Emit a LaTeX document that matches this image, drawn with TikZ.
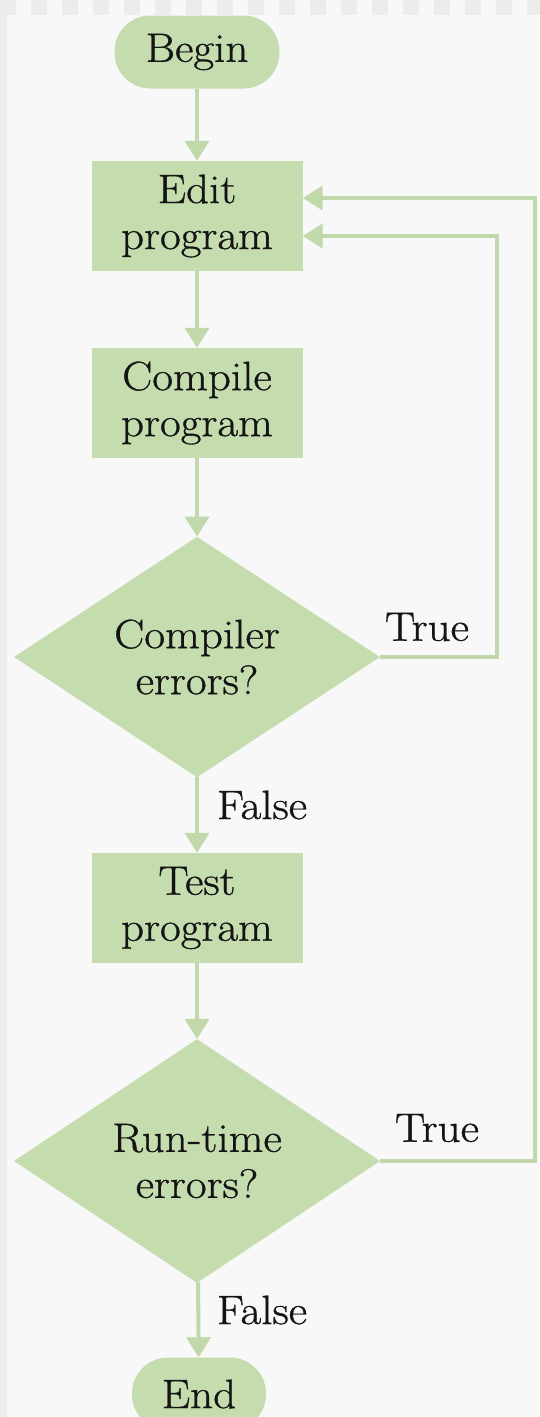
\documentclass[tikz,border=0pt]{standalone}
\usepackage{fontspec}
\usetikzlibrary{arrows.meta,shapes.geometric}
% a slightly wider and heavier cut of Latin Modern for the chart labels
\newfontfamily\flowfont{Latin Modern Roman}[FakeStretch=1.1,FakeBold=0.8]
\definecolor{flowgreen}{RGB}{197,220,174}
\definecolor{linegreen}{RGB}{193,217,170}
\definecolor{paper}{RGB}{248,248,248}
\definecolor{stripgray}{RGB}{236,236,236}
\definecolor{inkblack}{RGB}{20,20,20}
\tikzset{
  base/.style={fill=flowgreen, draw=none, text=inkblack, font=\flowfont\fontsize{41}{46}\selectfont, align=center, inner sep=0pt},
  terminal/.style={base, rectangle, rounded corners=36pt, minimum height=73pt},
  process/.style={base, rectangle, minimum width=211pt, minimum height=110pt},
  decision/.style={base, diamond, minimum width=366pt, minimum height=239pt},
  flow/.style={draw=linegreen, line width=4pt, -{Triangle[width=24pt,length=20pt]}},
  branch/.style={text=inkblack, font=\flowfont\fontsize{41}{46}\selectfont, inner sep=0pt}
}
\begin{document}
\begin{tikzpicture}[x=1pt,y=-1pt]
  % page background with the light strips on top and left
  \fill[paper] (0,0) rectangle (539,1417);
  \useasboundingbox (0,0) rectangle (539,1417);
  \fill[stripgray] (0,15) rectangle (7,1417);
  \foreach \i in {0,...,17} {
    \fill[stripgray] (\i*31,0) rectangle (\i*31+16,15);
  }

  % flowchart nodes
  \node[terminal, minimum width=165pt] (begin) at (197,52) {Begin};
  \node[process] (edit) at (197,216) {Edit\\program};
  \node[process] (compile) at (197,403) {Compile\\program};
  \node[decision] (cerr) at (197,657) {Compiler\\errors?};
  \node[process] (test) at (197,908) {Test\\program};
  \node[decision] (rerr) at (197,1161) {Run-time\\errors?};
  \node[terminal, minimum width=134pt] (end) at (199,1394) {End};

  % branch labels
  \node[branch] (t1) at (427,627) {True};
  \node[branch] (f1) at (262,805) {False};
  \node[branch] (t2) at (437,1128) {True};
  \node[branch] (f2) at (262,1310) {False};

  % return points on the right
  \coordinate (loopa) at (497,236);
  \coordinate (loopb) at (535,198);

  % main flow
  \draw[flow] (begin) -- (edit);
  \draw[flow] (edit) -- (compile);
  \draw[flow] (compile) -- (cerr);
  \draw[flow] (cerr) -- (test);
  \draw[flow] (test) -- (rerr);
  \draw[flow] (rerr) -- (end);

  % loops back to editing
  \draw[flow, line join=miter] (cerr.east) -| (loopa) -- (edit.east |- loopa);
  \draw[flow, line join=miter] (rerr.east) -| (loopb) -- (edit.east |- loopb);
\end{tikzpicture}
\end{document}
